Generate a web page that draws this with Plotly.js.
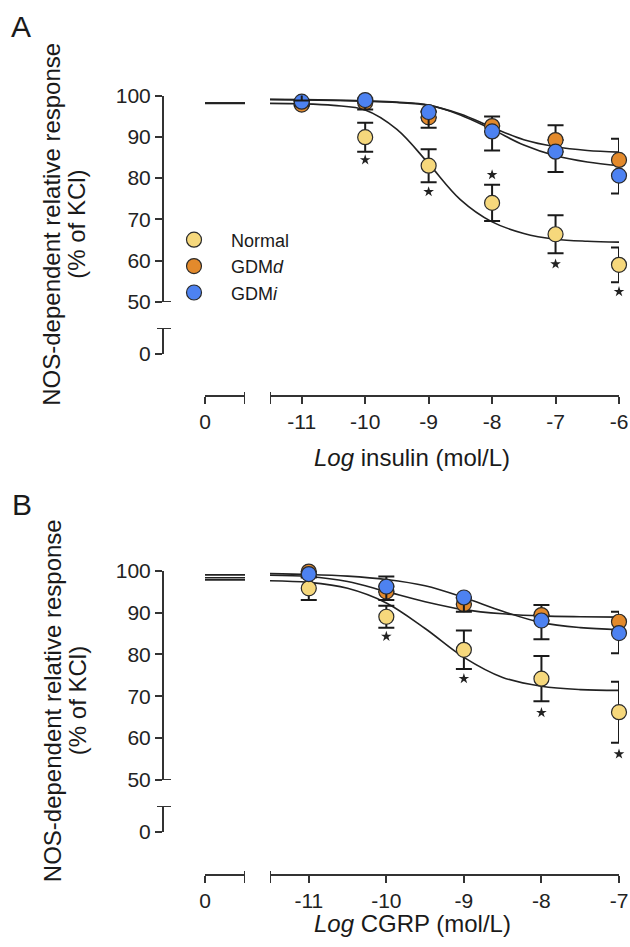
<!DOCTYPE html>
<html>
<head>
<meta charset="utf-8">
<script src="https://cdn.plot.ly/plotly-3.0.1.min.js"></script>
<style>html,body{margin:0;padding:0;background:#fff}#chart{width:630px;height:947px}</style>
</head>
<body>
<div id="chart"></div>
<script>
// ---------- Panel A: insulin ----------
const xA = [-11, -10, -9, -8, -7, -6];
const normalA = [100.3, 89.9, 83.0, 74.0, 66.4, 59.0];
const normalAErr = [1.5, 3.5, 4.0, 4.4, 4.6, 4.2];
const gdmdA = [97.8, 98.3, 94.7, 92.6, 89.2, 84.4];
const gdmdAErrUp = [1.0, 1.0, 1.5, 2.3, 3.6, 5.1];
const gdmiA = [98.5, 98.9, 96.0, 91.3, 86.4, 80.6];
const gdmiAErrDown = [1.0, 2.3, 3.8, 4.6, 4.9, 4.3];
const curveXA = [-11.5, -11, -10.5, -10, -9.5, -9, -8.5, -8, -7.5, -7, -6.5, -6];
const curveNormalA = [98.1, 98.0, 97.6, 96.5, 91.8, 83.5, 74.8, 69.4, 66.6, 65.2, 64.7, 64.5];
const curveGdmdA = [99.0, 98.9, 98.8, 98.6, 98.3, 97.6, 95.5, 92.3, 89.3, 87.6, 86.7, 86.3];
const curveGdmiA = [99.1, 99.0, 98.9, 98.7, 98.4, 97.7, 95.3, 91.8, 88.0, 85.4, 83.9, 83.0];
const zeroA = {normal: 98.1, gdmd: 98.2, gdmi: 98.2};
const starXA = [-10, -9, -8, -7, -6];
const starYA = [84.4, 76.7, 80.8, 59.2, 52.5];
const xTicksA = [-11, -10, -9, -8, -7, -6];

// ---------- Panel B: CGRP ----------
const xB = [-11, -10, -9, -8, -7];
const normalB = [95.8, 89.0, 81.1, 74.2, 66.2];
const normalBErr = [2.8, 2.6, 4.6, 5.4, 7.3];
const gdmdB = [99.8, 95.0, 92.0, 89.4, 87.8];
const gdmdBErrUp = [0.8, 3.6, 1.5, 2.4, 2.4];
const gdmiB = [99.2, 96.2, 93.6, 88.1, 85.1];
const gdmiBErrDown = [0.8, 3.2, 3.4, 4.5, 4.8];
const curveXB = [-11.5, -11, -10.5, -10, -9.5, -9, -8.5, -8, -7.5, -7];
const curveNormalB = [97.6, 97.2, 95.8, 92.3, 86.2, 79.3, 74.5, 72.4, 71.6, 71.4];
const curveGdmdB = [98.9, 98.6, 97.4, 95.0, 92.6, 90.7, 89.7, 89.2, 89.0, 88.9];
const curveGdmiB = [99.3, 99.1, 98.7, 97.9, 96.4, 93.6, 90.3, 87.6, 86.4, 85.9];
const zeroB = {normal: 97.8, gdmd: 98.3, gdmi: 99.0};
const starXB = [-10, -9, -8, -7];
const starYB = [84.3, 74.2, 66.1, 56.2];
const xTicksB = [-11, -10, -9, -8, -7];

const yTicks = [50, 60, 70, 80, 90, 100];
const groupNames = ['Normal', 'GDM<i>d</i>', 'GDM<i>i</i>'];
const colors = {normal: '#F6D87C', gdmd: '#E38A2C', gdmi: '#4D82F1'};

// ---------- geometry helpers (pixels -> paper) ----------
const W = 630, H = 947;
const px = v => v / W;
const py = v => 1 - v / H;
const FONT = 'Liberation Sans, Arial, sans-serif';
const AX = '#333';

const markerStyle = c => ({color: c, size: 15, line: {color: '#2a2a2a', width: 1.2}});
const curveLine = {color: '#222', width: 1.6, shape: 'spline', smoothing: 1};

function panelTraces(p) {
  const t = [];
  // fitted curves
  [p.cN, p.cD, p.cI].forEach(ys => {
    t.push({x: p.cX, y: ys, xaxis: p.xa, yaxis: p.ya, mode: 'lines', line: curveLine, showlegend: false, hoverinfo: 'skip'});
  });
  // zero-concentration segment
  [p.z.normal, p.z.gdmd, p.z.gdmi].forEach(v => {
    t.push({x: [0, 1], y: [v, v], xaxis: p.xz, yaxis: p.ya, mode: 'lines', line: {color: '#222', width: 1.6}, showlegend: false, hoverinfo: 'skip'});
  });
  // invisible anchor for the lower y-axis subplot
  t.push({x: [0], y: [-100], xaxis: p.xz, yaxis: p.yl, mode: 'markers', marker: {opacity: 0}, showlegend: false, hoverinfo: 'skip'});
  const pts = {
    normal: {x: p.x, y: p.n, xaxis: p.xa, yaxis: p.ya, mode: 'markers', name: groupNames[0], legendgroup: 'n', legendrank: 1,
      marker: markerStyle(colors.normal), cliponaxis: false, showlegend: p.legend,
      error_y: {type: 'data', array: p.nE, symmetric: true, color: '#1a1a1a', thickness: 2, width: 8}},
    gdmd: {x: p.x, y: p.d, xaxis: p.xa, yaxis: p.ya, mode: 'markers', name: groupNames[1], legendgroup: 'd', legendrank: 2,
      marker: markerStyle(colors.gdmd), cliponaxis: false, showlegend: p.legend,
      error_y: {type: 'data', array: p.dE, arrayminus: p.x.map(() => 0), symmetric: false, color: '#1a1a1a', thickness: 2, width: 8}},
    gdmi: {x: p.x, y: p.i, xaxis: p.xa, yaxis: p.ya, mode: 'markers', name: groupNames[2], legendgroup: 'i', legendrank: 3,
      marker: markerStyle(colors.gdmi), cliponaxis: false, showlegend: p.legend,
      error_y: {type: 'data', array: p.x.map(() => 0), arrayminus: p.iE, symmetric: false, color: '#1a1a1a', thickness: 2, width: 8}}
  };
  p.order.forEach(k => t.push(pts[k]));
  t.push({x: p.sX, y: p.sY, xaxis: p.xa, yaxis: p.ya, mode: 'markers', cliponaxis: false,
    marker: {symbol: 'star', size: 8, color: '#222', line: {width: 0}}, showlegend: false, hoverinfo: 'skip'});
  return t;
}

const traces = [
  ...panelTraces({x: xA, n: normalA, nE: normalAErr, d: gdmdA, dE: gdmdAErrUp, i: gdmiA, iE: gdmiAErrDown,
    cX: curveXA, cN: curveNormalA, cD: curveGdmdA, cI: curveGdmiA, z: zeroA, sX: starXA, sY: starYA,
    xa: 'x', xz: 'x2', ya: 'y', yl: 'y2', legend: true, order: ['gdmd', 'gdmi', 'normal']}),
  ...panelTraces({x: xB, n: normalB, nE: normalBErr, d: gdmdB, dE: gdmdBErrUp, i: gdmiB, iE: gdmiBErrDown,
    cX: curveXB, cN: curveNormalB, cD: curveGdmdB, cI: curveGdmiB, z: zeroB, sX: starXB, sY: starYB,
    xa: 'x3', xz: 'x4', ya: 'y3', yl: 'y4', legend: false, order: ['normal', 'gdmd', 'gdmi']})
];

const baseAxis = {
  showline: true, linecolor: AX, linewidth: 2, showgrid: false, zeroline: false,
  ticks: 'outside', ticklen: 7, tickwidth: 2, tickcolor: AX,
  tickfont: {family: FONT, size: 21, color: '#222'}, fixedrange: true, anchor: 'free'
};

// Panel geometry in pixels
const G = {
  A: {yTop: 95.5, y50: 302, yCap: 328, y0: 354, xLine: 396, xTitle: 457, xRangeMin: -11.5, xRangeMax: -6, ticks: xTicksA},
  B: {yTop: 570.7, y50: 780, yCap: 806, y0: 831.7, xLine: 875, xTitle: 923, xRangeMin: -11.5, xRangeMax: -7, ticks: xTicksB}
};
const YAX_X = 163, XZ0 = 205, XZ1 = 245, XM0 = 270, XM1 = 619;

function axesFor(g) {
  return {
    xm: Object.assign({}, baseAxis, {domain: [px(XM0), px(XM1)], range: [g.xRangeMin, g.xRangeMax], tickvals: g.ticks,
      ticktext: g.ticks.map(String), position: py(g.xLine)}),
    xz: Object.assign({}, baseAxis, {domain: [px(XZ0), px(XZ1)], range: [0, 1], tickvals: [0], ticktext: ['0'], position: py(g.xLine)}),
    ym: Object.assign({}, baseAxis, {domain: [py(g.y50), py(g.yTop)], range: [50, 100], tickvals: yTicks,
      ticktext: yTicks.map(String), position: px(YAX_X)}),
    yl: Object.assign({}, baseAxis, {domain: [py(g.y0), py(g.yCap)], range: [0, 10], tickvals: [0], ticktext: ['0'], position: px(YAX_X)})
  };
}
const aA = axesFor(G.A), aB = axesFor(G.B);

function caps(g, xm, xz, ym, yl) {
  const ln = {color: AX, width: 2};
  return [
    {type: 'line', xref: 'paper', yref: ym, x0: px(YAX_X - 6), x1: px(YAX_X + 8), y0: 50, y1: 50, line: ln},
    {type: 'line', xref: 'paper', yref: yl, x0: px(YAX_X - 6), x1: px(YAX_X + 8), y0: 10, y1: 10, line: ln},
    {type: 'line', xref: xz, yref: 'paper', x0: 1, x1: 1, y0: py(g.xLine - 4), y1: py(g.xLine + 8), line: ln},
    {type: 'line', xref: xm, yref: 'paper', x0: g.xRangeMin, x1: g.xRangeMin, y0: py(g.xLine - 4), y1: py(g.xLine + 8), line: ln}
  ];
}

const ann = (text, x, y, size, extra) => Object.assign({text, x: px(x), y: py(y), xref: 'paper', yref: 'paper',
  showarrow: false, xanchor: 'center', yanchor: 'middle', font: {family: FONT, size, color: '#1a1a1a'}}, extra || {});

const layout = {
  width: W, height: H, margin: {l: 0, r: 0, t: 0, b: 0},
  paper_bgcolor: '#fff', plot_bgcolor: 'rgba(0,0,0,0)',
  font: {family: FONT, color: '#1a1a1a'},
  showlegend: true,
  legend: {x: px(157), y: py(221.5), xanchor: 'left', yanchor: 'top', bgcolor: 'rgba(0,0,0,0)',
    font: {family: FONT, size: 18, color: '#1a1a1a'}, tracegroupgap: 6, itemwidth: 64, traceorder: 'normal'},
  xaxis: aA.xm, xaxis2: aA.xz, yaxis: aA.ym, yaxis2: aA.yl,
  xaxis3: aB.xm, xaxis4: aB.xz, yaxis3: aB.ym, yaxis4: aB.yl,
  shapes: [...caps(G.A, 'x', 'x2', 'y', 'y2'), ...caps(G.B, 'x3', 'x4', 'y3', 'y4')],
  annotations: [
    ann('A', 21, 26, 30),
    ann('B', 22, 505, 30),
    ann('NOS-dependent relative response', 52, (G.A.yTop + G.A.y0) / 2, 24, {textangle: -90}),
    ann('(% of KCl)', 77, (G.A.yTop + G.A.y0) / 2, 24, {textangle: -90}),
    ann('NOS-dependent relative response', 52, (G.B.yTop + G.B.y0) / 2, 24, {textangle: -90}),
    ann('(% of KCl)', 77, (G.B.yTop + G.B.y0) / 2, 24, {textangle: -90}),
    ann('<i>Log</i> insulin (mol/L)', (XZ0 + XM1) / 2, G.A.xTitle, 24),
    ann('<i>Log</i> CGRP (mol/L)', (XZ0 + XM1) / 2, G.B.xTitle, 24)
  ]
};

Plotly.newPlot('chart', traces, layout, {staticPlot: true, displayModeBar: false});
</script>
</body>
</html>
